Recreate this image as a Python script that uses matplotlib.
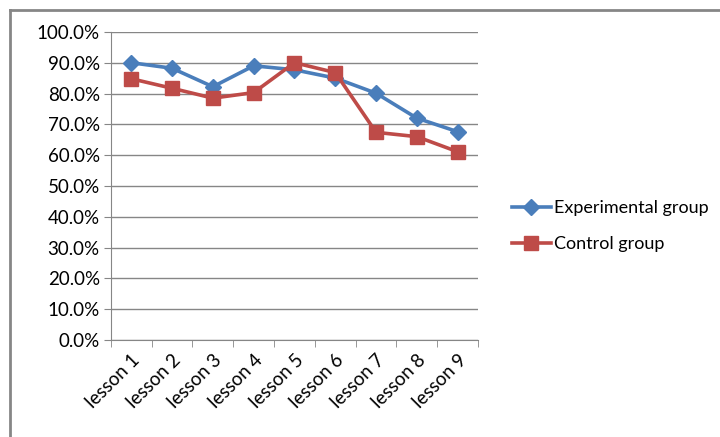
import numpy as np
import matplotlib.pyplot as plt
from matplotlib.lines import Line2D

plt.rcParams['font.family'] = ['Lato', 'DejaVu Sans']

lessons = ['lesson 1', 'lesson 2', 'lesson 3', 'lesson 4', 'lesson 5',
           'lesson 6', 'lesson 7', 'lesson 8', 'lesson 9']
experimental = [0.900, 0.882, 0.822, 0.890, 0.877, 0.850, 0.801, 0.720, 0.676]
control = [0.848, 0.817, 0.785, 0.803, 0.900, 0.868, 0.674, 0.660, 0.611]

blue = '#4A7EBB'
red = '#BE4B48'
grey = '#868686'

fig = plt.figure(figsize=(7.2, 4.37), dpi=100)
ax = fig.add_axes([0.154, 0.222, 0.510, 0.705])

x = np.arange(len(lessons))
ax.plot(x, experimental, color=blue, lw=2.6, marker='D', ms=8, label='Experimental group')
ax.plot(x, control, color=red, lw=2.6, marker='s', ms=10, label='Control group')

ax.set_xlim(-0.5, len(lessons) - 0.5)
ax.set_ylim(0, 1.0)
ax.set_yticks(np.arange(0, 1.01, 0.1))
ax.set_yticklabels(['%.1f%%' % (v * 100) for v in np.arange(0, 1.01, 0.1)], fontsize=13.5)
ax.yaxis.grid(True, color=grey, lw=1)
ax.set_axisbelow(True)

ax.set_xticks(x)
ax.set_xticklabels(lessons, rotation=45, ha='right', rotation_mode='anchor', fontsize=13.5)
ax.set_xticks(np.arange(-0.5, len(lessons)), minor=True)
ax.tick_params(axis='x', which='major', length=0, pad=8)
ax.tick_params(axis='x', which='minor', length=5, color=grey)
ax.tick_params(axis='y', length=5, color=grey, pad=3)

for s in ['top', 'right']:
    ax.spines[s].set_visible(False)
for s in ['left', 'bottom']:
    ax.spines[s].set_color(grey)

# outer chart border (top and left visible)
fig.add_artist(Line2D([10 / 720, 1], [1 - 10 / 437, 1 - 10 / 437], color=grey, lw=2,
                      transform=fig.transFigure))
fig.add_artist(Line2D([10 / 720, 10 / 720], [0, 1 - 10 / 437], color=grey, lw=2,
                      transform=fig.transFigure))

fig.legend(loc='center left', bbox_to_anchor=(0.688, 0.482), frameon=False,
           fontsize=13, handlelength=2.2, handletextpad=0.15, labelspacing=1.1)

plt.savefig('out.png', dpi=100)
plt.close()
